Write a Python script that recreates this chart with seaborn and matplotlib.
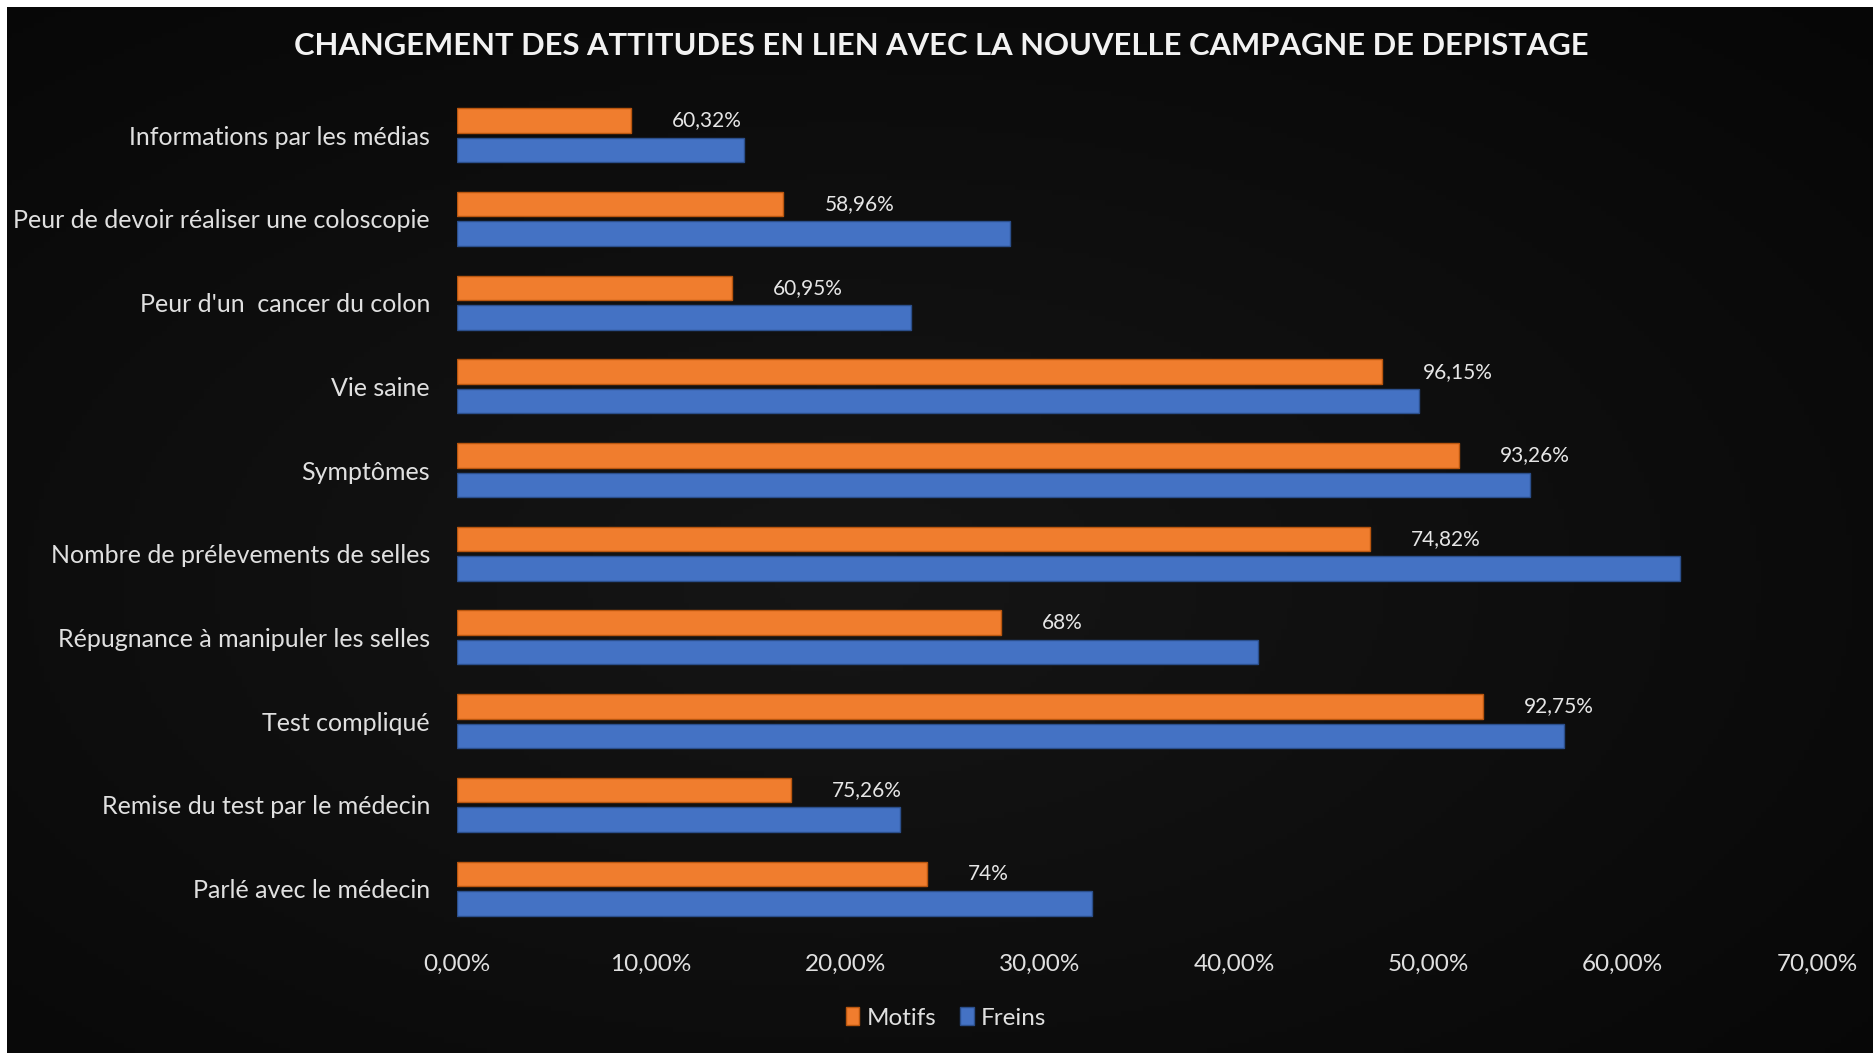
import numpy as np
import pandas as pd
import matplotlib
matplotlib.use("Agg")
import matplotlib.pyplot as plt
import seaborn as sns
from matplotlib.patches import Patch
from matplotlib.transforms import offset_copy

categories = [
    "Informations par les médias",
    "Peur de devoir réaliser une coloscopie",
    "Peur d'un  cancer du colon",
    "Vie saine",
    "Symptômes",
    "Nombre de prélevements de selles",
    "Répugnance à manipuler les selles",
    "Test compliqué",
    "Remise du test par le médecin",
    "Parlé avec le médecin",
]
motifs = [8.97, 16.82, 14.17, 47.60, 51.56, 47.02, 28.03, 52.81, 17.21, 24.21]
freins = [14.78, 28.49, 23.36, 49.52, 55.25, 62.97, 41.24, 56.98, 22.84, 32.71]
value_labels = ["60,32%", "58,96%", "60,95%", "96,15%", "93,26%",
                "74,82%", "68%", "92,75%", "75,26%", "74%"]
series_names = ["Motifs", "Freins"]
x_ticks = [0, 10, 20, 30, 40, 50, 60, 70]
title = "CHANGEMENT DES ATTITUDES EN LIEN AVEC LA NOUVELLE CAMPAGNE DE DEPISTAGE"

df = pd.DataFrame({
    "cat": categories * 2,
    "val": motifs + freins,
    "serie": [series_names[0]] * len(categories) + [series_names[1]] * len(categories),
})

sns.set_theme(style="white")
plt.rcParams["font.family"] = ["Lato", "DejaVu Sans"]

W, H = 1873, 1053
fig = plt.figure(figsize=(W / 100, H / 100), dpi=100, facecolor="white")

# dark background with subtle radial gradient
bg = fig.add_axes([7 / W, 0, 1 - 7 / W, 1 - 7 / H])
yy, xx = np.mgrid[0:1:200j, 0:1:350j]
r = np.sqrt(((xx - 0.45) / 0.9) ** 2 + ((yy - 0.55) / 0.9) ** 2)
grad = np.clip(0.085 - 0.07 * r, 0.02, 0.09)
bg.imshow(grad, cmap="gray", vmin=0, vmax=1, aspect="auto", extent=[0, 1, 0, 1])
bg.set_axis_off()

left, right = 456.5 / W, 1817 / W
bottom, top = 1 - 930.4 / H, 1 - 93.4 / H
ax = fig.add_axes([left, bottom, right - left, top - bottom])
ax.set_facecolor("none")

orange = "#F07D2E"
blue = "#4472C4"
sns.barplot(data=df, y="cat", x="val", hue="serie", orient="h",
            palette=[orange, blue], width=0.705, gap=0.17,
            ax=ax, legend=False, saturation=1)

edge_cols = ["#B9560F", "#2B4F8C"]
for i, cont in enumerate(ax.containers):
    for bar in cont:
        bar.set_edgecolor(edge_cols[i])
        bar.set_linewidth(1.0)

# data labels after orange bars
tr = offset_copy(ax.transData, fig=fig, x=41 * 0.72, y=0, units="points")
for bar, lab in zip(ax.containers[0], value_labels):
    y = bar.get_y() + bar.get_height() / 2
    ax.text(bar.get_width(), y, lab, transform=tr, ha="left", va="center",
            color="#E6E6E6", fontsize=15)

ax.set_xlim(0, 70)
ax.set_xticks(x_ticks)
ax.set_xticklabels([f"{v:.2f}%".replace(".", ",") for v in x_ticks])
ax.tick_params(axis="x", length=0, pad=17, labelsize=17.5, labelcolor="#E0E0E0")
ax.tick_params(axis="y", length=0, pad=19, labelsize=18, labelcolor="#E0E0E0")
ax.set_xlabel("")
ax.set_ylabel("")
for s in ax.spines.values():
    s.set_visible(False)
ax.grid(False)

fig.text(941 / W, 1 - 46 / H, title, ha="center", va="center",
         color="#F2F2F2", fontsize=22.3, fontweight="bold")

handles = [Patch(facecolor=orange, edgecolor=edge_cols[0]),
           Patch(facecolor=blue, edgecolor=edge_cols[1])]
fig.legend(handles, series_names, loc="center", bbox_to_anchor=(946 / W, 1 - 1018 / H),
           ncol=2, frameon=False, fontsize=17.5, labelcolor="#E0E0E0",
           handlelength=0.55, handleheight=0.75, handletextpad=0.3, columnspacing=1.0)

fig.savefig("out.png", dpi=100, facecolor="white")
